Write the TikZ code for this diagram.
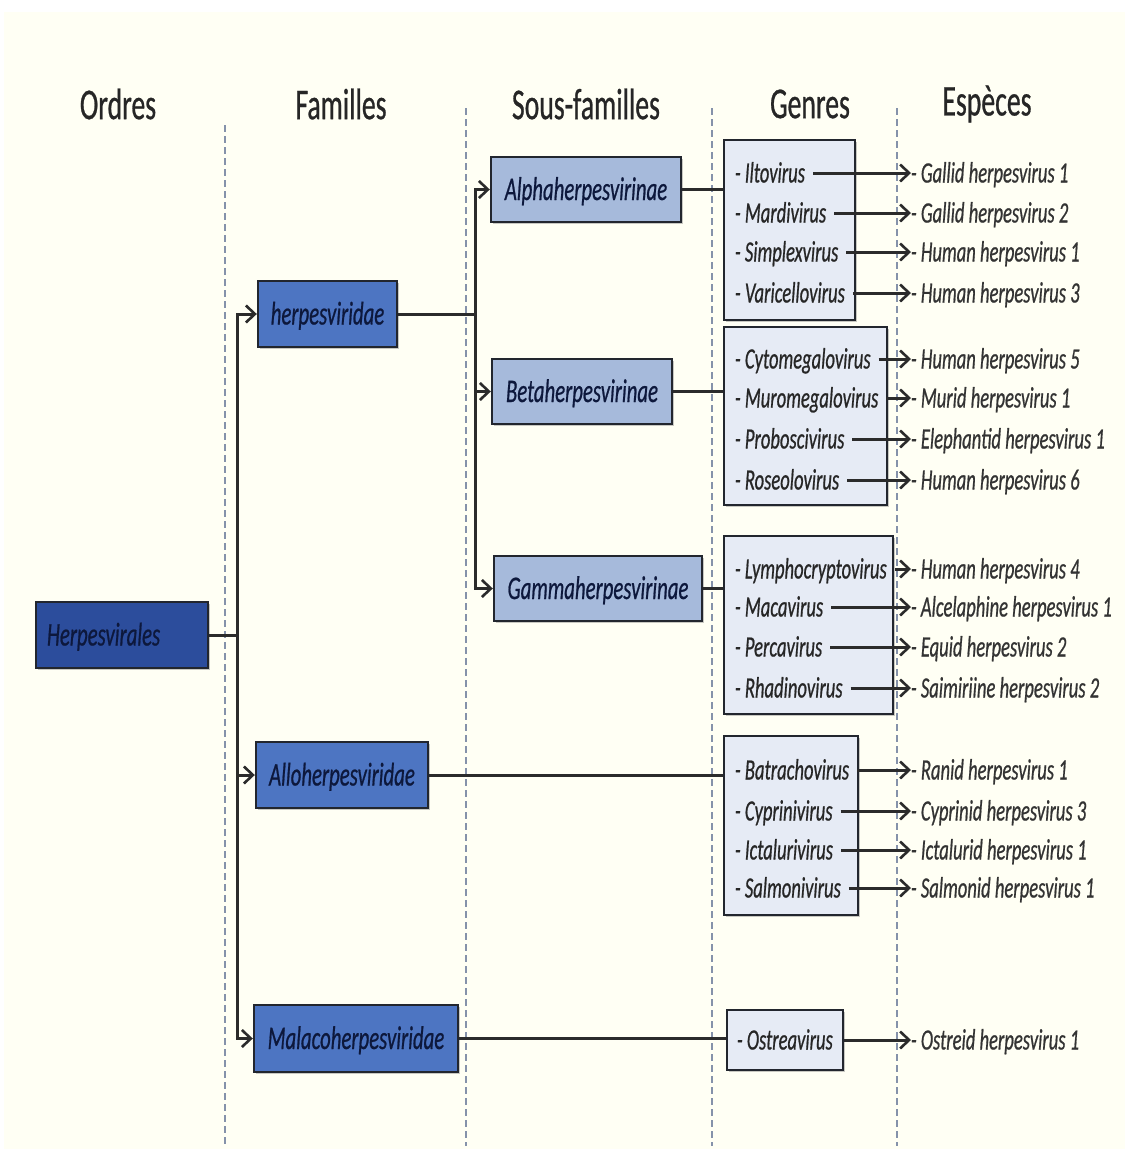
\documentclass[tikz,border=0pt]{standalone}
\usepackage{fontspec}
\setmainfont{Carlito}[FakeStretch=0.63,FakeBold=0.6]
\usetikzlibrary{arrows.meta,shadows}
\definecolor{bg}{HTML}{FFFFF4}
\definecolor{ordfill}{HTML}{2C4D9C}
\definecolor{famfill}{HTML}{4D75C2}
\definecolor{subfill}{HTML}{A6BADB}
\definecolor{genfill}{HTML}{E6EBF5}
\definecolor{bordc}{HTML}{22262E}
\definecolor{navy}{HTML}{0D183C}
\definecolor{txtc}{HTML}{262626}
\definecolor{sptxt}{HTML}{333333}
\definecolor{linec}{HTML}{2B2B2B}
\definecolor{dashc}{HTML}{8592AA}
\tikzset{
  shad/.style={drop shadow={shadow xshift=1.5pt,shadow yshift=-2pt,opacity=0.3,fill=black!70}},
  taxbox/.style={draw=bordc, line width=2.4pt, inner sep=0pt, shad,
    font=\fontsize{33}{36}\selectfont\itshape, text=navy, text height=21pt, text depth=0pt},
  ordbox/.style={taxbox, fill=ordfill},
  fambox/.style={taxbox, fill=famfill},
  subbox/.style={taxbox, fill=subfill},
  genbox/.style={draw=bordc, line width=2.4pt, fill=genfill, inner sep=0pt, shad},
  gen/.style={anchor=west, inner sep=0pt, outer sep=0pt,
    font=\fontsize{29.5}{32}\selectfont\itshape, text=txtc, text height=19pt, text depth=0pt},
  spec/.style={gen, text=sptxt},
  head/.style={font=\fontsize{44}{48}\selectfont, text=txtc, inner sep=0pt},
  conn/.style={line width=3pt, draw=linec},
  arr/.style={conn, -{Straight Barb[length=9pt,width=17pt,line width=2.6pt]}},
  sep/.style={draw=dashc, line width=1.2pt, dash pattern=on 7pt off 4pt}
}
\begin{document}
\begin{tikzpicture}[x=1pt,y=-1pt]
\useasboundingbox (0,0) rectangle (1125,1149);
\fill[white] (0,0) rectangle (1125,1149);
\fill[bg] (4,12) rectangle (1125,1149);

% column separators
\draw[sep] (225,125) -- (225,1146);
\draw[sep] (466,108) -- (466,1146);
\draw[sep] (712,108) -- (712,1146);
\draw[sep] (897,108) -- (897,1146);

% headings
\node[head] (hOrd) at (118,104) {Ordres};
\node[head] (hFam) at (341,104) {Familles};
\node[head] (hSub) at (586,104) {Sous-familles};
\node[head] (hGen) at (810,104) {Genres};
\node[head] (hEsp) at (987,104) {Espèces};

% taxon boxes
\node[ordbox, minimum width=172pt, minimum height=66pt, text width=150pt, align=left] (ord) at (122,635) {Herpesvirales};
\node[fambox, minimum width=139pt, minimum height=66pt] (herp) at (327.5,314) {herpesviridae};
\node[fambox, minimum width=172pt, minimum height=66pt] (allo) at (342,775) {Alloherpesviridae};
\node[fambox, minimum width=204pt, minimum height=67pt] (mala) at (356,1038.5) {Malacoherpesviridae};
\node[subbox, minimum width=190pt, minimum height=65pt] (alpha) at (586,189.5) {Alphaherpesvirinae};
\node[subbox, minimum width=180pt, minimum height=65pt] (beta) at (582,391.5) {Betaherpesvirinae};
\node[subbox, minimum width=208pt, minimum height=65pt] (gamma) at (598,588.5) {Gammaherpesvirinae};

% genre boxes
\node[genbox, minimum width=131pt, minimum height=180pt] (gb1) at (789.5,230) {};
\node[genbox, minimum width=163pt, minimum height=178pt] (gb2) at (805.5,416) {};
\node[genbox, minimum width=169pt, minimum height=178pt] (gb3) at (808.5,625) {};
\node[genbox, minimum width=134pt, minimum height=179pt] (gb4) at (791,825.5) {};
\node[genbox, minimum width=116pt, minimum height=60pt] (gb5) at (785,1040) {};

% order -> families
\path (ord.east) ++(28,0) coordinate (t1);
\draw[conn] (ord.east) -- (t1);
\draw[arr] (t1) |- (herp.west);
\draw[arr] (t1) |- (allo.west);
\draw[arr] (t1) |- (mala.west);

% herpesviridae -> subfamilies
\path (herp.east) ++(77,0) coordinate (t2);
\draw[conn] (herp.east) -- (t2);
\draw[arr] (t2) |- (alpha.west);
\draw[arr] (t2) |- (beta.west);
\draw[arr] (t2) |- (gamma.west);

% subfamilies/families -> genre boxes
\draw[conn] (alpha.east) -- (alpha.east -| gb1.west);
\draw[conn] (beta.east) -- (beta.east -| gb2.west);
\draw[conn] (gamma.east) -- (gamma.east -| gb3.west);
\draw[conn] (allo.east) -- (allo.east -| gb4.west);
\draw[conn] (mala.east) -- (mala.east -| gb5.west);

% genres and species
\foreach \n/\yy/\g/\s in {
  1/173/Iltovirus/Gallid herpesvirus 1,
  2/213/Mardivirus/Gallid herpesvirus 2,
  3/252/Simplexvirus/Human herpesvirus 1,
  4/293/Varicellovirus/Human herpesvirus 3,
  5/359/Cytomegalovirus/Human herpesvirus 5,
  6/398/Muromegalovirus/Murid herpesvirus 1,
  7/439/Proboscivirus/Elephantid herpesvirus 1,
  8/480/Roseolovirus/Human herpesvirus 6,
  9/569/Lymphocryptovirus/Human herpesvirus 4,
  10/607/Macavirus/Alcelaphine herpesvirus 1,
  11/647/Percavirus/Equid herpesvirus 2,
  12/688/Rhadinovirus/Saimiriine herpesvirus 2,
  13/770/Batrachovirus/Ranid herpesvirus 1,
  14/811/Cyprinivirus/Cyprinid herpesvirus 3,
  15/850/Ictalurivirus/Ictalurid herpesvirus 1,
  16/888/Salmonivirus/Salmonid herpesvirus 1}{
  \node[gen] (g\n) at (735,\yy) {- \g};
  \node[spec] (s\n) at (911,\yy) {- \s};
  \draw[arr] ([xshift=8pt]g\n.east) -- (s\n.west);
}
\node[gen] (g17) at (737,1040) {- Ostreavirus};
\node[spec] (s17) at (911,1040) {- Ostreid herpesvirus 1};
\draw[arr] (gb5.east) -- (s17.west);
\end{tikzpicture}
\end{document}
